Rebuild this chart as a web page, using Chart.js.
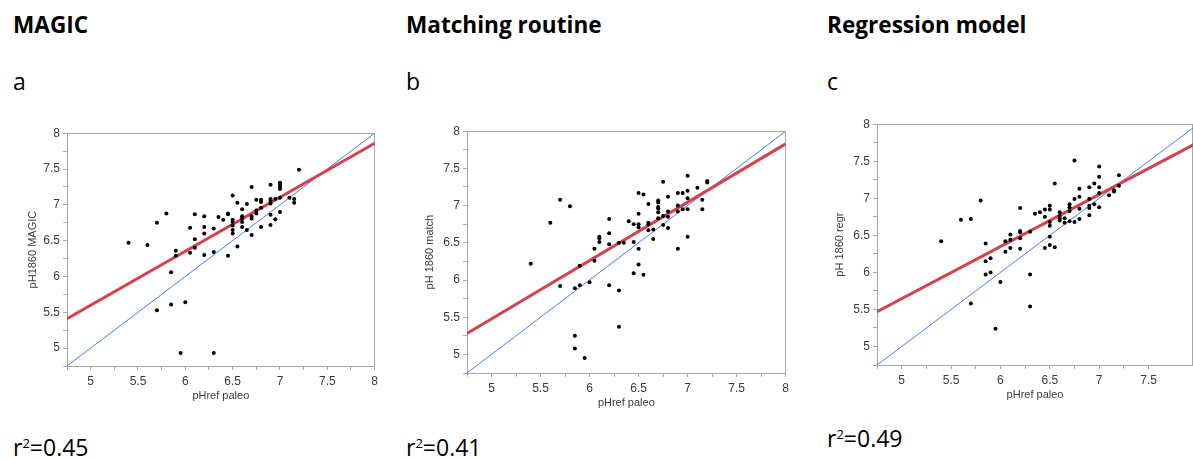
<!DOCTYPE html>
<html>
<head>
<meta charset="utf-8">
<title>pH 1860 reconstructions versus paleo reference</title>
<script src="https://cdn.jsdelivr.net/npm/chart.js@4.4.1/dist/chart.umd.min.js"></script>
<style>
  html, body { margin: 0; padding: 0; background: #fff; overflow: hidden; width: 1193px; height: 459px; }
  .t { position: absolute; font-family: "Open Sans", sans-serif; color: #000; white-space: nowrap; line-height: 1; }
  .h { font-weight: bold; font-size: 22.6px; }
  .l { font-size: 23px; }
  .sup { font-size: 13px; position: relative; top: -8px; }
  canvas { position: absolute; }
</style>
</head>
<body>
<div class="t h" style="left:13px; top:14px;">MAGIC</div>
<div class="t h" style="left:406px; top:14px;">Matching routine</div>
<div class="t h" style="left:827px; top:14px;">Regression model</div>

<div class="t l" style="left:13px; top:69.6px;">a</div>
<div class="t l" style="left:406px; top:69.6px;">b</div>
<div class="t l" style="left:827px; top:69.6px;">c</div>

<div class="t l" style="left:13px; top:435.6px;">r<span class="sup">2</span>=0.45</div>
<div class="t l" style="left:406px; top:435.6px;">r<span class="sup">2</span>=0.41</div>
<div class="t l" style="left:827px; top:426.6px;">r<span class="sup">2</span>=0.49</div>

<canvas id="magic"></canvas>
<canvas id="match"></canvas>
<canvas id="regr"></canvas>

<script>
// ---- data -------------------------------------------------------------
// pHref paleo (x) against reconstructed pH 1860 (y), one pair of arrays per method
const magicX = [5.4,5.6,5.7,5.8,5.7,5.85,5.85,5.9,5.9,5.95,6.0,6.05,6.05,6.1,6.1,6.1,6.2,6.2,6.2,6.2,6.3,6.3,6.3,6.35,6.4,6.45,6.45,6.45,6.5,6.5,6.5,6.5,6.5,6.5,6.55,6.55,6.6,6.6,6.6,6.6,6.6,6.65,6.65,6.7,6.7,6.7,6.7,6.75,6.75,6.75,6.8,6.8,6.8,6.8,6.9,6.9,6.9,6.9,6.9,6.9,6.95,6.95,7.0,7.0,7.0,7.0,7.0,7.0,7.1,7.15,7.15,7.2];
const magicY = [6.47,6.44,6.75,6.88,5.53,6.06,5.61,6.36,6.29,4.93,5.64,6.68,6.33,6.52,6.87,6.40,6.84,6.69,6.60,6.30,6.67,6.34,4.93,6.83,6.79,6.88,6.87,6.29,7.13,6.79,6.76,6.71,6.65,6.60,7.03,6.42,6.94,6.84,6.81,6.76,6.69,7.01,6.65,7.25,6.84,6.81,6.58,7.07,6.92,6.88,7.07,7.04,6.96,6.69,7.28,7.08,7.06,7.02,6.86,6.72,7.08,6.80,7.31,7.28,7.25,7.22,7.10,6.90,7.10,7.08,7.03,7.49];

const matchX = [5.4,5.6,5.7,5.7,5.8,5.85,5.85,5.85,5.9,5.9,5.95,6.0,6.05,6.05,6.1,6.1,6.1,6.2,6.2,6.2,6.2,6.3,6.3,6.3,6.35,6.4,6.45,6.45,6.45,6.5,6.5,6.5,6.5,6.5,6.5,6.55,6.55,6.6,6.6,6.6,6.6,6.65,6.65,6.7,6.7,6.7,6.7,6.7,6.7,6.75,6.75,6.75,6.8,6.8,6.8,6.8,6.9,6.9,6.9,6.9,6.95,6.95,7.0,7.0,7.0,7.0,7.0,7.1,7.15,7.15,7.2,7.2];
const matchY = [6.22,6.77,7.08,5.92,6.99,5.89,5.25,5.08,6.19,5.93,4.95,5.97,6.42,6.26,6.58,6.56,6.51,6.82,6.63,6.48,5.93,6.50,5.86,5.37,6.50,6.79,6.75,6.51,6.09,7.17,6.89,6.75,6.71,6.42,6.21,7.15,6.07,7.02,6.77,6.75,6.67,6.68,6.55,7.07,7.04,6.98,6.96,6.91,6.83,7.32,6.86,6.74,7.12,6.92,6.85,6.70,7.17,7.00,6.92,6.42,7.17,6.95,7.40,7.20,7.10,6.95,6.58,7.24,7.08,6.95,7.33,7.31];

const regrX = [5.4,5.6,5.7,5.7,5.8,5.85,5.85,5.85,5.9,5.9,5.95,6.0,6.05,6.05,6.1,6.1,6.1,6.2,6.2,6.2,6.2,6.2,6.3,6.3,6.3,6.35,6.4,6.45,6.45,6.45,6.5,6.5,6.5,6.5,6.5,6.5,6.55,6.55,6.6,6.6,6.6,6.6,6.65,6.65,6.7,6.7,6.7,6.7,6.75,6.75,6.75,6.8,6.8,6.8,6.8,6.9,6.9,6.9,6.9,6.9,6.95,6.95,7.0,7.0,7.0,7.0,7.0,7.1,7.15,7.15,7.2,7.2];
const regrY = [6.42,6.71,6.72,5.58,6.97,6.39,6.15,5.97,6.19,6.0,5.24,5.87,6.42,6.28,6.51,6.44,6.33,6.87,6.56,6.54,6.46,6.32,6.55,5.97,5.54,6.79,6.81,6.85,6.75,6.33,6.90,6.85,6.68,6.63,6.48,6.37,7.20,6.34,6.81,6.76,6.73,6.70,6.73,6.67,6.92,6.88,6.83,6.69,7.51,6.99,6.68,7.13,7.02,6.86,6.72,7.15,6.99,6.90,6.87,6.77,7.20,6.92,7.43,7.29,7.15,7.07,6.88,7.04,7.11,7.09,7.31,7.17];

// fitted regression lines (end points) and the 1:1 line
const fitX = [4.75, 8];
const magicFitY = [5.41, 7.86];
const matchFitY = [5.28, 7.83];
const regrFitY  = [5.47, 7.755];
const oneToOne  = [4.75, 8];

// labelled tick values (minor ticks every 0.25 are left blank)
const tickLabels = [5, 5.5, 6, 6.5, 7, 7.5, 8];
const xTitle = 'pHref paleo';

// ---- styling ----------------------------------------------------------
const RED = '#d4424e';
const BLUE = '#3f7ef3';
const AXIS = '#a8a8a8';
const TXT = '#3a3a3a';
const FONT = '"Liberation Sans", Arial, sans-serif';

const pts = (xs, ys) => xs.map((x, i) => ({ x: x, y: ys[i] }));
const tickCb = (v) => {
  const r = Math.round(v * 100) / 100;
  return tickLabels.includes(r) ? String(r) : '';
};

// grey box around the plotting area
const framePlugin = {
  id: 'frame',
  beforeDatasetsDraw(chart) {
    const a = chart.chartArea, ctx = chart.ctx;
    ctx.save();
    ctx.strokeStyle = AXIS;
    ctx.lineWidth = 1;
    ctx.strokeRect(Math.round(a.left) + 0.5, Math.round(a.top) + 0.5,
                   Math.round(a.right - a.left) - 1, Math.round(a.bottom - a.top));
    ctx.restore();
  }
};

function panel(id, p) {
  const cv = document.getElementById(id);
  cv.width = p.width; cv.height = p.height;
  cv.style.left = p.left + 'px'; cv.style.top = p.top + 'px';
  cv.style.width = p.width + 'px'; cv.style.height = p.height + 'px';

  const axisCommon = {
    type: 'linear',
    grid: { drawOnChartArea: false, drawTicks: true, tickLength: 4, color: AXIS },
    border: { display: true, color: AXIS },
    ticks: { stepSize: 0.25, autoSkip: false, maxRotation: 0, callback: tickCb,
             color: TXT, font: { family: FONT, size: 12 } }
  };

  new Chart(cv, {
    type: 'scatter',
    data: {
      datasets: [
        { data: pts(p.xs, p.ys), pointRadius: 2, pointHoverRadius: 2,
          backgroundColor: '#000', borderColor: '#000', borderWidth: 0, order: 0 },
        { data: pts(fitX, p.fitY), showLine: true, borderColor: RED, borderWidth: 3,
          pointRadius: 0, fill: false, tension: 0, order: 1 },
        { data: pts(oneToOne, oneToOne), showLine: true, borderColor: BLUE, borderWidth: 1,
          pointRadius: 0, fill: false, tension: 0, order: 2 }
      ]
    },
    options: {
      responsive: false,
      animation: false,
      events: [],
      layout: { padding: { top: 10, right: p.padRight, left: 0, bottom: 0 } },
      plugins: { legend: { display: false }, tooltip: { enabled: false } },
      scales: {
        x: Object.assign({}, axisCommon, {
          min: 4.75, max: p.xMax,
          ticks: Object.assign({}, axisCommon.ticks, { padding: 4 }),
          afterFit(s) { s.height = 45; },
          title: { display: true, text: xTitle, color: TXT,
                   font: { family: FONT, size: 11 }, padding: { top: 0, bottom: 8.4 } }
        }),
        y: Object.assign({}, axisCommon, {
          min: 4.75, max: 8,
          ticks: Object.assign({}, axisCommon.ticks, { padding: 3 }),
          afterFit(s) { s.width = p.yAxisW; },
          title: { display: true, text: p.yTitle, color: TXT,
                   font: { family: FONT, size: 11 }, padding: { top: p.yTitlePad, bottom: 0 } }
        })
      }
    },
    plugins: [framePlugin]
  });
}

panel('magic', { left: 0, top: 123, width: 382, height: 288, padRight: 5, xMax: 8,
  yAxisW: 67, yTitlePad: 26.4, yTitle: 'pH1860 MAGIC', xs: magicX, ys: magicY, fitY: magicFitY });
panel('match', { left: 400, top: 121, width: 393, height: 297, padRight: 5, xMax: 8,
  yAxisW: 67, yTitlePad: 23.4, yTitle: 'pH 1860 match', xs: matchX, ys: matchY, fitY: matchFitY });
panel('regr', { left: 800, top: 114, width: 398, height: 296, padRight: 5, xMax: 7.95,
  yAxisW: 77, yTitlePad: 33.4, yTitle: 'pH 1860 regr', xs: regrX, ys: regrY, fitY: regrFitY });
</script>
</body>
</html>
